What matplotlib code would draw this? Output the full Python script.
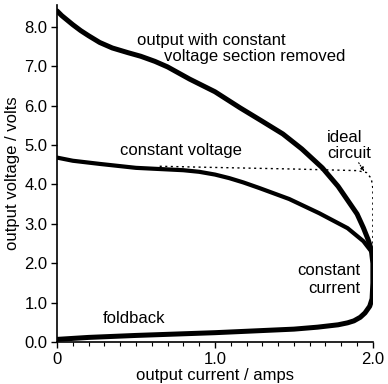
import matplotlib
matplotlib.use("Agg")
import matplotlib.pyplot as plt
from matplotlib.ticker import MultipleLocator

plt.rcParams["font.family"] = ["Liberation Sans", "DejaVu Sans"]

# output with constant voltage section removed, then constant current and foldback
removed_i = [0, 0.03, 0.1, 0.15, 0.2, 0.27, 0.35, 0.45, 0.53, 0.62, 0.7, 0.84, 1.0,
             1.16, 1.3, 1.43, 1.55, 1.68, 1.78, 1.84, 1.9, 1.94, 1.97, 1.99,
             2.0, 2.0, 1.995, 1.98, 1.95, 1.92, 1.88, 1.84, 1.78, 1.65, 1.5, 1.0,
             0.5, 0.2, 0]
removed_v = [8.4, 8.28, 8.05, 7.9, 7.77, 7.6, 7.46, 7.34, 7.25, 7.12, 6.98, 6.67, 6.35,
             5.94, 5.6, 5.28, 4.9, 4.42, 3.95, 3.6, 3.25, 2.9, 2.6, 2.35,
             2.0, 1.5, 1.1, 0.91, 0.74, 0.63, 0.54, 0.49, 0.44, 0.38, 0.33, 0.24,
             0.17, 0.12, 0.07]

# constant voltage section
cv_i = [0, 0.1, 0.27, 0.5, 0.7, 0.8, 0.9, 1.0, 1.09, 1.18, 1.28, 1.47, 1.66, 1.84,
        1.94, 1.99]
cv_v = [4.68, 4.6, 4.52, 4.42, 4.38, 4.36, 4.32, 4.25, 4.16, 4.05, 3.91, 3.63, 3.27,
        2.89, 2.56, 2.3]

# ideal circuit
ideal_i = [0.65, 1.0, 1.5, 1.9, 1.96, 1.99, 2.0, 2.0]
ideal_v = [4.46, 4.43, 4.39, 4.35, 4.3, 4.15, 3.9, 2.4]

fig = plt.figure(figsize=(3.88, 3.84), dpi=100)
ax = fig.add_axes([0.147, 0.109, 0.814, 0.878])

ax.plot(ideal_i, ideal_v, color="black", lw=1.0, linestyle=(0, (1.5, 2.5)))
ax.plot(cv_i, cv_v, color="black", lw=3.0, solid_joinstyle="round", solid_capstyle="round")
ax.plot(removed_i, removed_v, color="black", lw=3.6, solid_joinstyle="round", solid_capstyle="round")

fs = 12
ax.text(0.506, 7.65, "output with constant", fontsize=fs, ha="left", va="center")
ax.text(1.823, 7.24, "voltage section removed", fontsize=fs, ha="right", va="center")
ax.text(0.40, 4.86, "constant voltage", fontsize=fs, ha="left", va="center")
ax.text(1.71, 5.19, "ideal", fontsize=fs, ha="left", va="center")
ax.text(1.71, 4.78, "circuit", fontsize=fs, ha="left", va="center")
ax.text(1.924, 1.82, "constant", fontsize=fs, ha="right", va="center")
ax.text(1.924, 1.37, "current", fontsize=fs, ha="right", va="center")
ax.text(0.29, 0.61, "foldback", fontsize=fs, ha="left", va="center")
ax.annotate("", xy=(1.945, 4.33), xytext=(1.91, 4.55),
            arrowprops=dict(arrowstyle="-|>", color="black", lw=0.8, linestyle=":",
                            mutation_scale=6, shrinkA=0, shrinkB=0))

ax.set_xlim(0, 2.0)
ax.set_ylim(0, 8.55)
ax.spines["top"].set_visible(False)
ax.spines["right"].set_visible(False)
ax.spines["left"].set_linewidth(1.2)
ax.spines["bottom"].set_linewidth(1.2)
ax.set_xticks([0, 1.0, 2.0])
ax.set_xticklabels(["0", "1.0", "2.0"])
ax.xaxis.set_minor_locator(MultipleLocator(0.1))
ax.set_yticks([0, 1, 2, 3, 4, 5, 6, 7, 8])
ax.set_yticklabels(["0.0", "1.0", "2.0", "3.0", "4.0", "5.0", "6.0", "7.0", "8.0"])
ax.tick_params(axis="both", which="major", length=4, width=1.0, labelsize=fs, pad=3)
ax.tick_params(axis="x", which="minor", length=3, width=0.8)
ax.set_xlabel("output current / amps", fontsize=fs, labelpad=1)
ax.set_ylabel("output voltage / volts", fontsize=fs, labelpad=3)

fig.savefig("out.png", dpi=100)
